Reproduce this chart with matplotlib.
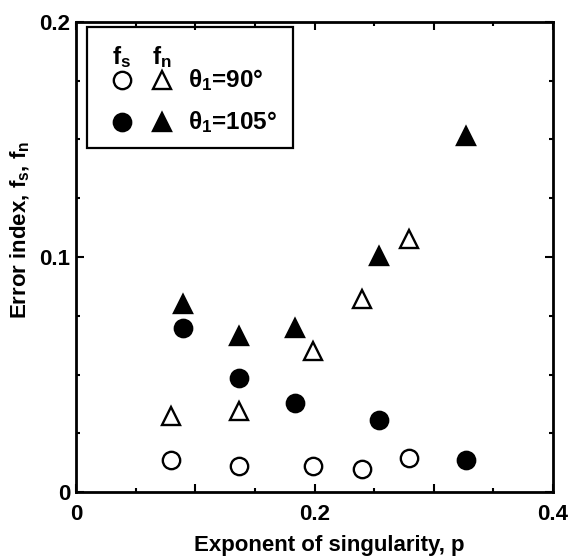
import matplotlib
matplotlib.use("Agg")
import matplotlib.pyplot as plt
from matplotlib.patches import Rectangle
from matplotlib.ticker import MultipleLocator, FixedFormatter, FixedLocator

plt.rcParams['font.family'] = ['Liberation Sans', 'DejaVu Sans']
plt.rcParams['mathtext.fontset'] = 'custom'
plt.rcParams['mathtext.rm'] = 'Liberation Sans:bold'
plt.rcParams['mathtext.it'] = 'Liberation Sans:bold'

# theta1 = 90 deg (open markers)
p_90 = [0.080, 0.137, 0.199, 0.240, 0.279]
fs_90 = [0.0136, 0.0111, 0.0111, 0.0097, 0.0143]
fn_90 = [0.0323, 0.0345, 0.0600, 0.0820, 0.1075]

# theta1 = 105 deg (filled markers)
p_105 = [0.090, 0.137, 0.184, 0.254, 0.327]
fs_105 = [0.0700, 0.0484, 0.0378, 0.0305, 0.0136]
fn_105 = [0.0802, 0.0665, 0.0696, 0.1004, 0.1517]

x_ticks = [0, 0.1, 0.2, 0.3, 0.4]
x_labels = ['0', '', '0.2', '', '0.4']
y_ticks = [0, 0.1, 0.2]
y_labels = ['0', '0.1', '0.2']
legend_labels = ['θ$_\\mathregular{1}$=90°', 'θ$_\\mathregular{1}$=105°']

fs = 16
fig = plt.figure(figsize=(5.69, 5.59), dpi=100)
ax = fig.add_axes([76 / 569, 67 / 559, 477 / 569, 470 / 559])

ms = 12.5
mew = 1.7
ax.plot(p_90, fs_90, 'o', ms=ms, mfc='white', mec='black', mew=mew, clip_on=False)
ax.plot(p_90, fn_90, '^', ms=ms, mfc='white', mec='black', mew=mew, clip_on=False)
ax.plot(p_105, fs_105, 'o', ms=ms, mfc='black', mec='black', mew=mew, clip_on=False)
ax.plot(p_105, fn_105, '^', ms=ms, mfc='black', mec='black', mew=mew, clip_on=False)

ax.set_xlim(0, 0.4)
ax.set_ylim(0, 0.2)
ax.xaxis.set_major_locator(FixedLocator(x_ticks))
ax.xaxis.set_major_formatter(FixedFormatter(x_labels))
ax.xaxis.set_minor_locator(MultipleLocator(0.05))
ax.yaxis.set_major_locator(FixedLocator(y_ticks))
ax.yaxis.set_major_formatter(FixedFormatter(y_labels))
ax.yaxis.set_minor_locator(MultipleLocator(0.025))
ax.tick_params(which='both', direction='in', top=True, right=True, width=1.5,
               labelsize=fs)
ax.tick_params(which='major', length=6)
ax.tick_params(which='minor', length=3)
ax.tick_params(axis='x', which='major', pad=9)
ax.tick_params(axis='y', which='major', pad=4)
for lab in ax.get_xticklabels() + ax.get_yticklabels():
    lab.set_fontweight('bold')
for s in ax.spines.values():
    s.set_linewidth(2)

ax.set_xlabel('Exponent of singularity, p', fontsize=fs, fontweight='bold')
ax.xaxis.set_label_coords(0.53, -0.092)
ax.set_ylabel('Error index, f$_\\mathregular{s}$, f$_\\mathregular{n}$', fontsize=fs,
              fontweight='bold')
ax.yaxis.set_label_coords(-0.092, 0.557)

# legend drawn by hand (two marker columns under f_s / f_n headers)
lfs = 17.5
ax.add_patch(Rectangle((0.023, 0.732), 0.432, 0.257, transform=ax.transAxes,
                       fill=False, lw=1.6, ec='black'))
ax.text(0.0964, 0.925, 'f$_\\mathregular{s}$', transform=ax.transAxes, fontsize=lfs,
        fontweight='bold', ha='center', va='center')
ax.text(0.180, 0.925, 'f$_\\mathregular{n}$', transform=ax.transAxes, fontsize=lfs,
        fontweight='bold', ha='center', va='center')
rows = [0.877, 0.787]
fills = ['white', 'black']
for yy, fc, lab in zip(rows, fills, legend_labels):
    ax.plot([0.0964], [yy], 'o', ms=ms, mfc=fc, mec='black', mew=mew,
            transform=ax.transAxes, clip_on=False)
    ax.plot([0.180], [yy], '^', ms=ms, mfc=fc, mec='black', mew=mew,
            transform=ax.transAxes, clip_on=False)
    ax.text(0.235, yy, lab, transform=ax.transAxes, fontsize=lfs,
            fontweight='bold', ha='left', va='center')

fig.savefig('out.png', dpi=100)
